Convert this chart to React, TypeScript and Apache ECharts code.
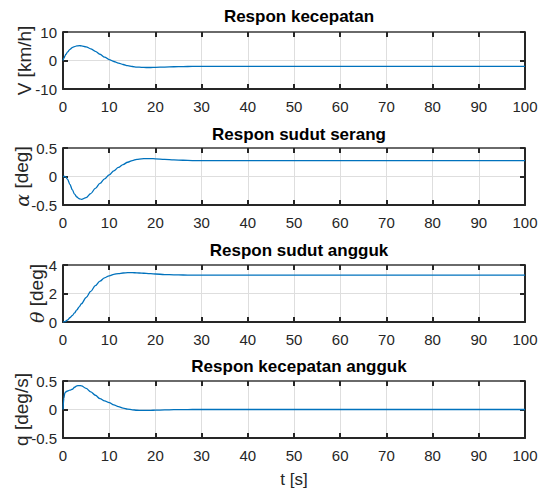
import React, { useEffect, useRef } from "react";
import * as echarts from "echarts";

// time axis [s]
const time = [0, 0.2, 0.4, 0.6, 1, 1.5, 2, 2.5, 3, 3.5, 4, 5, 6, 7, 8, 9, 10, 11, 12, 13, 14, 15, 16, 17, 18, 19, 20, 22, 24, 26, 28, 30, 40, 100];

// Respon kecepatan V [km/h]
const velocity = [0, 0.8, 1.5, 2.1, 3.0, 3.9, 4.5, 4.9, 5.1, 5.2, 5.15, 4.8, 4.1, 3.2, 2.2, 1.2, 0.3, -0.35, -0.9, -1.4, -1.8, -2.1, -2.3, -2.4, -2.45, -2.45, -2.4, -2.3, -2.2, -2.12, -2.08, -2.05, -2.05, -2.05];

// Respon sudut serang alpha [deg]
const alpha = [0, 0.0, 0.0, -0.01, -0.05, -0.14, -0.23, -0.31, -0.36, -0.39, -0.40, -0.37, -0.30, -0.21, -0.12, -0.04, 0.03, 0.10, 0.16, 0.21, 0.25, 0.28, 0.30, 0.31, 0.315, 0.315, 0.31, 0.30, 0.29, 0.285, 0.28, 0.28, 0.28, 0.28];

// Respon sudut angguk theta [deg]
const theta = [0, 0.01, 0.03, 0.06, 0.15, 0.3, 0.45, 0.64, 0.85, 1.06, 1.28, 1.72, 2.15, 2.55, 2.87, 3.1, 3.24, 3.34, 3.40, 3.44, 3.46, 3.46, 3.45, 3.43, 3.41, 3.39, 3.37, 3.33, 3.31, 3.30, 3.29, 3.29, 3.29, 3.29];

// Respon kecepatan angguk q [deg/s]
const pitchRate = [0, 0.2, 0.29, 0.31, 0.325, 0.34, 0.355, 0.39, 0.415, 0.42, 0.415, 0.37, 0.31, 0.25, 0.19, 0.15, 0.12, 0.08, 0.05, 0.025, 0.008, -0.005, -0.013, -0.017, -0.017, -0.015, -0.012, -0.007, -0.003, -0.001, 0, 0, 0, 0];

const titles = ["Respon kecepatan", "Respon sudut serang", "Respon sudut angguk", "Respon kecepatan angguk"];
const yNames = ["V [km/h]", "{g|α} [deg]", "{g|θ} [deg]", "q [deg/s]"];
const yMin = [-10, -0.5, 0, -0.5];
const yMax = [10, 0.5, 4, 0.5];
const yInterval = [10, 0.5, 2, 0.5];
const seriesData = [velocity, alpha, theta, pitchRate];

const FONT = "'Liberation Sans', Arial, Helvetica, sans-serif";
const DARK = "#262626";

export default function App() {
  const ref = useRef<HTMLDivElement>(null);
  useEffect(() => {
    if (!ref.current) return;
    const chart = echarts.init(ref.current, null, { renderer: "svg" });
    const tops = [32, 148, 265, 381];
    const titleCenters = [14.5, 132.5, 249, 365];
    const nameGaps = [29, 32, 17, 32];
    const plotLeft = 63;
    const plotRight = 525;
    const grid = tops.map((top) => ({
      left: plotLeft, right: 541 - plotRight, top, height: 57, show: false,
      containLabel: false, outerBoundsMode: "none",
    }));
    const xAxis: any[] = [];
    const yAxis: any[] = [];
    const series: any[] = [];
    tops.forEach((_, i) => {
      const last = i === 3;
      xAxis.push({
        gridIndex: i, type: "value", min: 0, max: 100, interval: 10, position: "bottom",
        name: last ? "t [s]" : "", nameLocation: "middle", nameGap: 33, nameMoveOverlap: false,
        nameTextStyle: { fontSize: 17, color: DARK, fontFamily: FONT },
        axisLine: { show: true, onZero: false, lineStyle: { color: DARK, width: 2 } },
        axisTick: { show: true, inside: true, length: 5, lineStyle: { color: DARK, width: 2 } },
        axisLabel: { show: true, margin: 10, fontSize: 15, color: DARK, fontFamily: FONT },
        splitLine: { show: true, lineStyle: { color: "#dedede", width: 1 } },
      });
      xAxis.push({
        gridIndex: i, type: "value", min: 0, max: 100, interval: 10, position: "top",
        axisLine: { show: true, onZero: false, lineStyle: { color: "#6a6a6a", width: 2 } },
        axisTick: { show: true, inside: true, length: 5, lineStyle: { color: DARK, width: 2 } },
        axisLabel: { show: false },
        splitLine: { show: false },
      });
      yAxis.push({
        gridIndex: i, type: "value", min: yMin[i], max: yMax[i], interval: yInterval[i], position: "left",
        name: yNames[i], nameLocation: "middle", nameGap: nameGaps[i], nameMoveOverlap: false,
        nameTextStyle: {
          fontSize: 19, color: DARK, fontFamily: FONT,
          rich: { g: { fontSize: 19, color: DARK, fontFamily: "'DejaVu Serif', serif", fontStyle: "italic" } },
        },
        axisLine: { show: true, onZero: false, lineStyle: { color: DARK, width: 2 } },
        axisTick: { show: true, inside: true, length: 5, lineStyle: { color: DARK, width: 2 } },
        axisLabel: { show: true, margin: 6, fontSize: 15, color: DARK, fontFamily: FONT },
        splitLine: { show: true, lineStyle: { color: "#dedede", width: 1 } },
      });
      yAxis.push({
        gridIndex: i, type: "value", min: yMin[i], max: yMax[i], interval: yInterval[i], position: "right",
        axisLine: { show: true, onZero: false, lineStyle: { color: DARK, width: 2 } },
        axisTick: { show: true, inside: true, length: 5, lineStyle: { color: DARK, width: 2 } },
        axisLabel: { show: false },
        splitLine: { show: false },
      });
      series.push({
        type: "line", xAxisIndex: i * 2, yAxisIndex: i * 2,
        data: time.map((t, j) => [t, seriesData[i][j]]),
        showSymbol: false, smooth: 0.35, smoothMonotone: "x",
        lineStyle: { color: "#0072BD", width: 1.3 }, z: 3,
      });
    });
    chart.setOption({
      animation: false,
      backgroundColor: "#ffffff",
      title: titles.map((text, i) => ({
        text, left: (plotLeft + plotRight) / 2, top: titleCenters[i] - 12, textAlign: "center",
        textStyle: { fontSize: 17, fontWeight: "bold", color: "#000", fontFamily: FONT },
      })),
      grid, xAxis, yAxis, series,
    });
    return () => chart.dispose();
  }, []);
  return <div ref={ref} style={{ position: "fixed", left: 0, top: 0, width: 541, height: 493, background: "#fff" }} />;
}
